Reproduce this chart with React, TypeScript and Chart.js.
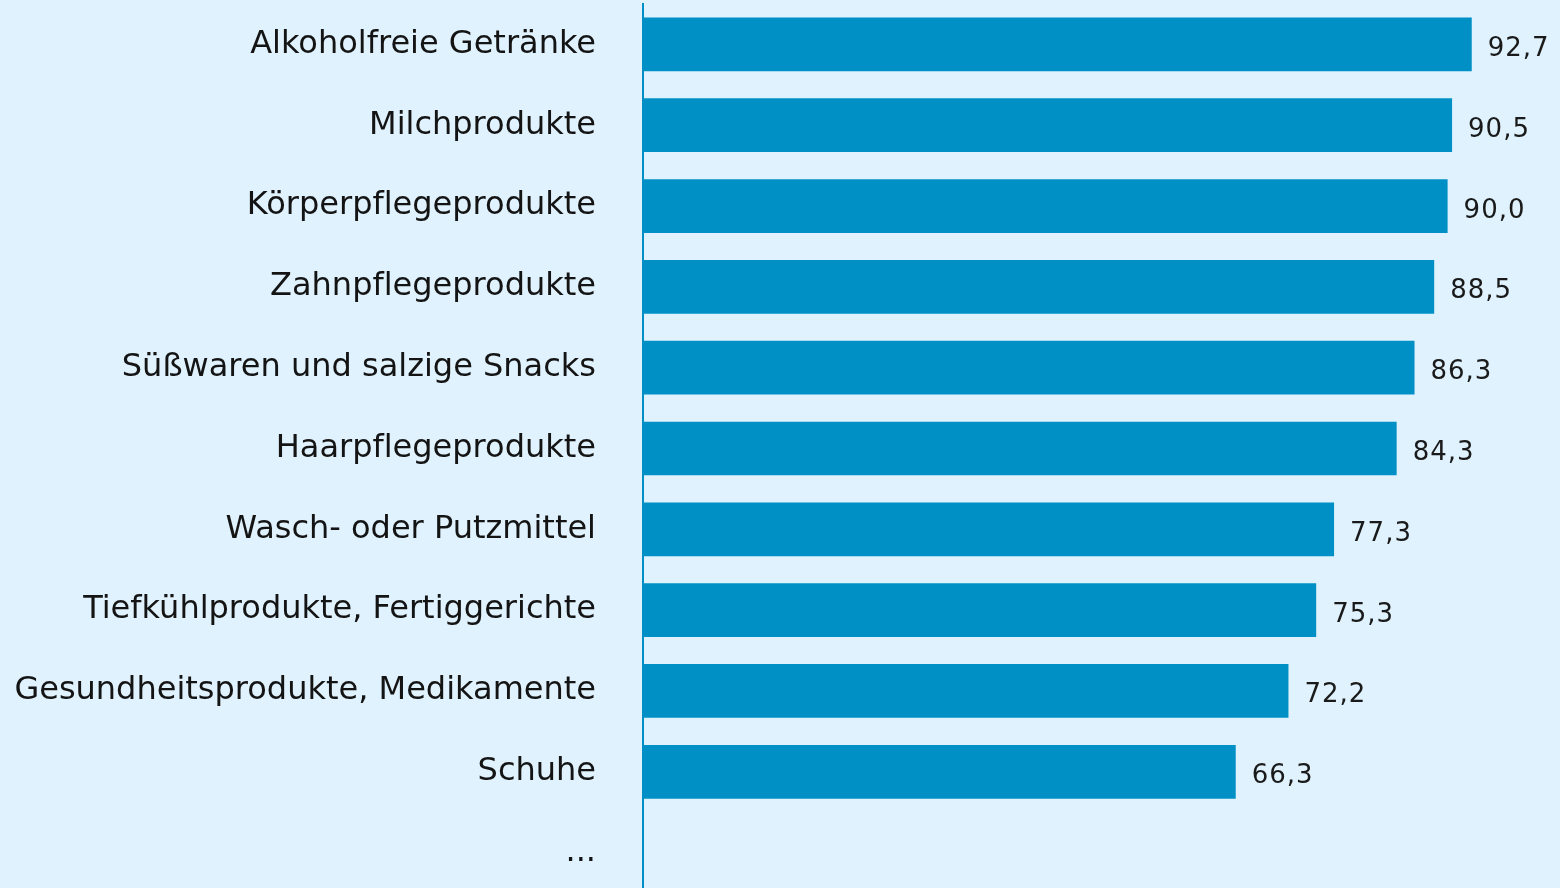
import React, { useEffect, useRef } from "react";
import { Chart, registerables } from "chart.js";

Chart.register(...registerables);

// \u200C (zero-width non-joiner) keeps "f" and "l" as separate letters, as in the original
const categories = [
  "Alkoholfreie Getränke",
  "Milchprodukte",
  "Körperpf\u200Clegeprodukte",
  "Zahnpf\u200Clegeprodukte",
  "Süßwaren und salzige Snacks",
  "Haarpf\u200Clegeprodukte",
  "Wasch- oder Putzmittel",
  "Tiefkühlprodukte, Fertiggerichte",
  "Gesundheitsprodukte, Medikamente",
  "Schuhe",
  "...",
];
const values: (number | null)[] = [92.7, 90.5, 90.0, 88.5, 86.3, 84.3, 77.3, 75.3, 72.2, 66.3, null];

const BG = "#dff2fd";
const BAR = "#0090c6";

const valueLabels = {
  id: "valueLabels",
  afterDatasetsDraw(chart: any) {
    const ctx = chart.ctx;
    const meta = chart.getDatasetMeta(0);
    ctx.save();
    ctx.font = "26px 'DejaVu Sans'";
    try {
      (ctx as any).letterSpacing = "1px";
    } catch (e) {}
    ctx.fillStyle = "#1a1a1a";
    ctx.textAlign = "left";
    ctx.textBaseline = "alphabetic";
    meta.data.forEach((el: any, i: number) => {
      const v = values[i];
      if (v == null) return;
      ctx.fillText(v.toFixed(1).replace(".", ","), el.x + 16, el.y + 11.5);
    });
    ctx.restore();
  },
};

export default function App() {
  const ref = useRef<HTMLCanvasElement>(null);
  useEffect(() => {
    document.body.style.margin = "0";
    const chart = new Chart(ref.current!, {
      type: "bar",
      data: {
        labels: categories,
        datasets: [
          {
            data: values as any,
            backgroundColor: BAR,
            barPercentage: 0.665,
            categoryPercentage: 1,
          },
        ],
      },
      options: {
        indexAxis: "y",
        animation: false,
        responsive: false,
        layout: { padding: { top: 4, bottom: 4, right: 23, left: 0 } },
        plugins: { legend: { display: false }, tooltip: { enabled: false } },
        scales: {
          x: { display: false, min: 0, max: 100 },
          y: {
            grid: {
              display: true,
              drawOnChartArea: false,
              drawTicks: true,
              tickLength: 47,
              color: "rgba(0,0,0,0)",
            },
            border: { display: true, color: BAR, width: 2 },
            ticks: {
              color: "#141414",
              padding: 0,
              font: { family: "'DejaVu Sans'", size: 32, lineHeight: 0.2 },
            },
            afterFit(scale: any) {
              scale.width = 643;
            },
          },
        },
      },
      plugins: [valueLabels],
    });
    return () => chart.destroy();
  }, []);
  return (
    <div style={{ position: "fixed", left: 0, top: 0, width: 1560, height: 888, overflow: "hidden", background: BG }}>
      <canvas ref={ref} width={1560} height={897} style={{ display: "block" }} />
    </div>
  );
}
